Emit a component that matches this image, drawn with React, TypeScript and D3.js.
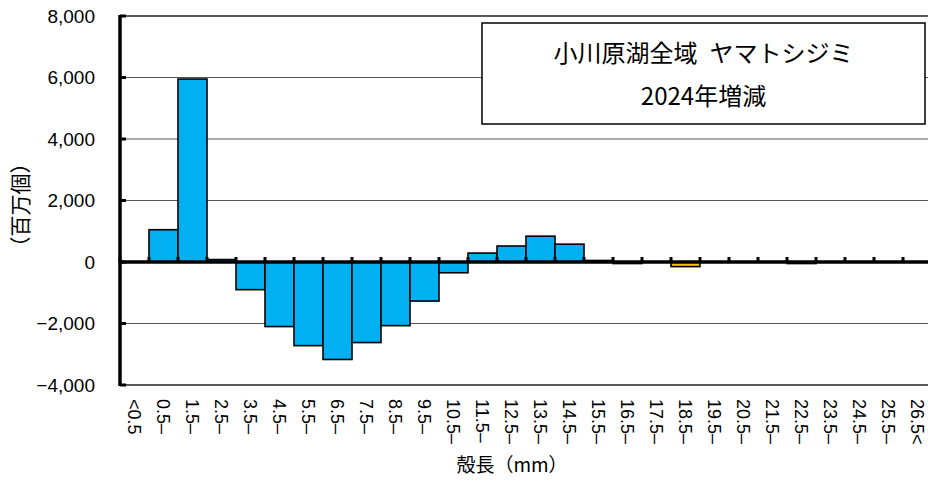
import React from "react";
import * as d3 from "d3";

const categories = [
  "<0.5", "0.5–", "1.5–", "2.5–", "3.5–", "4.5–", "5.5–", "6.5–", "7.5–", "8.5–",
  "9.5–", "10.5–", "11.5–", "12.5–", "13.5–", "14.5–", "15.5–", "16.5–", "17.5–", "18.5–",
  "19.5–", "20.5–", "21.5–", "22.5–", "23.5–", "24.5–", "25.5–", "26.5<",
];
const values = [
  0, 1050, 5950, 80, -900, -2100, -2720, -3170, -2620, -2070,
  -1270, -350, 290, 520, 840, 580, 50, -50, 0, -150,
  0, 0, 0, -50, 0, 0, 0, 0,
];
const yTicks = [-4000, -2000, 0, 2000, 4000, 6000, 8000];
const highlighted = ["18.5–"];
const titleLines = ["小川原湖全域\u2002ヤマトシジミ", "2024年増減"];
const yTitle = "（百万個）";
const xTitle = "殻長（mm）";

const W = 928;
const H = 492;

export default function App() {
  const x = d3.scaleBand<string>().domain(categories).range([120, 932]).padding(0);
  const y = d3.scaleLinear().domain([-4000, 8000]).range([385, 16]);
  const fmt = d3.format(",");
  const y0 = y(0);
  const tickFont = "'Liberation Sans', Arial, sans-serif";
  const cjkFont = "'Noto Sans CJK JP', sans-serif";

  return (
    <svg width={W} height={H} style={{ position: "absolute", left: 0, top: 0, background: "#fff" }}>
      {/* gridlines */}
      {yTicks.filter((t) => t !== 0).map((t) => (
        <line key={"g" + t} x1={120} x2={W} y1={y(t)} y2={y(t)}
          stroke={t === 8000 || t === -4000 ? "#222" : "#555"}
          strokeWidth={t === 8000 || t === -4000 ? 1.6 : 1} />
      ))}
      {/* bars */}
      {categories.map((c, i) => {
        const v = values[i];
        const top = Math.min(y(v), y0);
        const h = Math.abs(y(v) - y0);
        return (
          <rect key={c} x={x(c)!} y={top} width={x.bandwidth()} height={h}
            fill={highlighted.includes(c) ? "#FFC000" : "#00B0F0"}
            stroke="#000" strokeWidth={1.6} />
        );
      })}
      {/* zero axis */}
      <line x1={120} x2={W} y1={y0} y2={y0} stroke="#000" strokeWidth={3.5} />
      {categories.map((c, i) => (
        <line key={"xt" + i} x1={x(c)!} x2={x(c)!} y1={y0} y2={y0 - 5} stroke="#000" strokeWidth={3} />
      ))}
      {/* y axis */}
      <line x1={120} x2={120} y1={y(8000) - 1} y2={y(-4000) + 1} stroke="#000" strokeWidth={3.5} />
      {yTicks.map((t) => (
        <line key={"yt" + t} x1={120} x2={126} y1={y(t)} y2={y(t)} stroke="#000" strokeWidth={3} />
      ))}
      {yTicks.map((t) => (
        <text key={"yl" + t} x={95} y={y(t)} dy="0.35em" textAnchor="end"
          fontFamily={tickFont} fontSize={19} fill="#000">{fmt(t)}</text>
      ))}
      {/* x labels */}
      {categories.map((c) => {
        const cx = x(c)! + x.bandwidth() / 2;
        return (
          <text key={"xl" + c} transform={`translate(${cx},399) rotate(90)`} dy="0.35em"
            fontFamily={tickFont} fontSize={18} fill="#000">{c}</text>
        );
      })}
      {/* axis titles */}
      <text transform={`translate(21,205) rotate(-90)`} dy="0.35em" textAnchor="middle"
        fontFamily={cjkFont} fontSize={21} fill="#000">{yTitle}</text>
      <text x={512} y={465} dy="0.35em" textAnchor="middle"
        fontFamily={cjkFont} fontSize={19} fill="#000">{xTitle}</text>
      {/* title box */}
      <rect x={482} y={23} width={443} height={101} fill="#fff" stroke="#000" strokeWidth={1.5} />
      {titleLines.map((t, i) => (
        <text key={"t" + i} x={703.5} y={i === 0 ? 54 : 97} dy="0.35em" textAnchor="middle"
          fontFamily={cjkFont} fontSize={24} fill="#000">{t}</text>
      ))}
    </svg>
  );
}
